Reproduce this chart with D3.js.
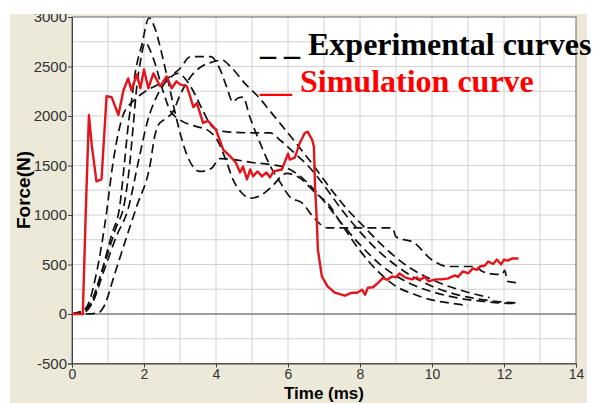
<!DOCTYPE html>
<html><head><meta charset="utf-8">
<script src="https://cdn.jsdelivr.net/npm/d3@7/dist/d3.min.js"></script>
<style>body{margin:0;background:#fff}svg{display:block}</style>
</head><body>
<script>
// ---- data (time in ms, force in N) ----
const xTicks = [0, 2, 4, 6, 8, 10, 12, 14];
const yTicks = [-500, 0, 500, 1000, 1500, 2000, 2500, 3000];
const legendLabels = ["_ _ Experimental curves", "__ Simulation curve"];

const exp1 = [[0,0],[0.2,20],[0.35,40],[0.5,100],[0.8,400],[1.1,800],[1.33,1100],[1.45,1500],[1.56,1900],[1.67,2200],[1.75,2420],[1.94,2720],[2.14,2990],[2.3,2890],[2.5,2620],[2.67,2350],[2.86,2040],[3.0,1830],[3.2,1600],[3.4,1470],[3.55,1440],[3.75,1450],[3.9,1480],[4.1,1570],[4.5,1560],[5.0,1530],[5.5,1510],[6.0,1470],[6.5,1340],[7.0,1140],[7.5,910],[8.0,700],[8.5,520],[9.0,385],[9.5,290],[10.0,225],[10.5,178],[11.0,145],[11.5,125],[12.0,110],[12.4,105]];
const exp2 = [[0,0],[0.3,30],[0.5,80],[0.85,450],[1.2,850],[1.47,1150],[1.6,1500],[1.7,1900],[1.8,2300],[1.9,2550],[2.03,2740],[2.25,2590],[2.53,2250],[2.72,2060],[3.0,1960],[3.4,1900],[3.8,1850],[4.03,1760],[4.3,1530],[4.47,1360],[4.7,1230],[4.94,1170],[5.2,1190],[5.5,1270],[5.97,1420],[6.3,1380],[6.8,1210],[7.1,1120],[7.5,900],[8.0,640],[8.5,430],[9.0,280],[9.5,200],[9.9,150],[10.5,110],[11.0,85]];
const exp3 = [[0,0],[0.25,20],[0.45,100],[0.7,450],[0.95,1000],[1.14,1530],[1.3,1850],[1.42,2010],[1.7,2150],[2.0,2240],[2.45,2330],[2.8,2420],[3.05,2500],[3.2,2580],[3.3,2600],[3.85,2600],[4.1,2480],[4.3,2290],[4.47,2140],[4.6,2180],[4.75,2190],[4.94,1990],[5.2,1750],[5.5,1500],[5.8,1320],[6.06,1180],[6.4,1120],[6.7,980],[7.1,870],[8.9,870],[9.0,780],[9.5,720],[10.0,545],[10.45,480],[11.2,480],[11.4,430],[11.8,400],[11.95,400],[12.02,440],[12.1,330],[12.4,315]];
const exp4 = [[0,0],[0.4,0],[0.75,15],[0.87,65],[1.2,420],[1.5,760],[1.8,1090],[2.17,1510],[2.3,1800],[2.4,1910],[2.63,1980],[2.8,2040],[3.0,2210],[3.28,2390],[3.6,2500],[3.9,2545],[4.17,2565],[4.4,2500],[4.8,2330],[5.2,2185],[5.5,2050],[5.86,1890],[6.28,1700],[6.75,1480],[7.03,1340],[7.58,1085],[8.14,870],[8.6,700],[9.25,500],[10.2,315],[10.8,240],[11.6,165]];
const exp5 = [[0,0],[0.3,10],[0.55,100],[0.9,450],[1.25,800],[1.55,1050],[1.85,1550],[2.1,1950],[2.4,2230],[2.7,2380],[2.95,2430],[3.2,2350],[3.37,2250],[3.6,2080],[3.9,1890],[4.2,1845],[5.0,1830],[5.5,1830],[5.8,1750],[6.2,1620],[6.6,1480],[7.0,1300],[7.5,1050],[8.0,830],[8.5,640],[9.0,490],[9.5,370],[10.0,280],[10.5,215],[11.0,170],[11.5,140],[12.0,120],[12.4,112]];
const experimental = [exp1, exp2, exp3, exp4, exp5];

const simulation = [[0,0],[0.3,0],[0.38,1000],[0.47,2010],[0.55,1700],[0.68,1340],[0.82,1360],[0.96,2200],[1.1,2190],[1.29,2010],[1.43,2260],[1.56,2380],[1.65,2260],[1.8,2420],[1.9,2280],[2.0,2470],[2.12,2280],[2.26,2430],[2.45,2300],[2.63,2400],[2.77,2280],[2.9,2350],[3.0,2320],[3.19,2300],[3.28,2200],[3.37,2090],[3.47,2130],[3.64,1930],[3.78,1950],[4.0,1860],[4.1,1760],[4.2,1660],[4.4,1590],[4.55,1530],[4.67,1430],[4.75,1490],[4.86,1360],[4.95,1460],[5.03,1390],[5.15,1440],[5.28,1390],[5.4,1430],[5.5,1380],[5.6,1440],[5.83,1460],[6.0,1620],[6.05,1560],[6.19,1580],[6.33,1730],[6.47,1830],[6.55,1840],[6.67,1760],[6.72,1690],[6.75,1290],[6.8,950],[6.83,650],[6.94,380],[7.1,280],[7.3,215],[7.58,185],[7.78,215],[7.92,215],[8.06,245],[8.14,195],[8.22,265],[8.36,270],[8.5,315],[8.64,365],[8.75,345],[8.9,380],[9.0,370],[9.1,410],[9.25,370],[9.44,350],[9.58,370],[9.67,345],[9.8,375],[9.9,330],[10.1,350],[10.28,350],[10.45,360],[10.64,390],[10.72,375],[10.86,430],[11.0,410],[11.14,460],[11.25,445],[11.33,480],[11.47,490],[11.56,530],[11.7,505],[11.8,550],[11.92,500],[12.0,550],[12.1,540],[12.22,560],[12.4,560]];

// ---- layout ----
const W = 595, H = 403;
const L = 72, R = 576, T = 17, B = 363.5;

const svg = d3.select("body").append("svg").attr("width", W).attr("height", H);
svg.append("rect").attr("width", W).attr("height", H).attr("fill", "#fff");
svg.append("rect").attr("x", 10).attr("y", 14).attr("width", 577).attr("height", H - 14).attr("fill", "#ECE9D8");
svg.append("rect").attr("x", L).attr("y", T).attr("width", R - L).attr("height", B - T).attr("fill", "#fff");

const x = d3.scaleLinear().domain([0, 14]).range([L, R]);
const y = d3.scaleLinear().domain([-500, 3000]).range([B, T]);

// grid
const grid = svg.append("g").attr("stroke", "#d2d2d2").attr("stroke-width", 1);
grid.selectAll(".gx").data(d3.range(1, 14)).join("line")
  .attr("x1", d => x(d)).attr("x2", d => x(d)).attr("y1", T).attr("y2", B);
grid.selectAll(".gy").data(d3.range(-250, 3000, 250)).join("line")
  .attr("y1", d => y(d)).attr("y2", d => y(d)).attr("x1", L).attr("x2", R);
svg.append("line").attr("x1", L).attr("x2", R).attr("y1", y(0)).attr("y2", y(0))
  .attr("stroke", "#555").attr("stroke-width", 1);

// frame
svg.append("rect").attr("x", L).attr("y", T).attr("width", R - L).attr("height", B - T)
  .attr("fill", "none").attr("stroke", "#666").attr("stroke-width", 1);

// axes
const fmt = d => String(d);
const xAxis = svg.append("g").attr("transform", `translate(0,${B})`)
  .call(d3.axisBottom(x).tickValues(xTicks).tickFormat(fmt).tickSize(4).tickPadding(2));
const yAxis = svg.append("g").attr("transform", `translate(${L},0)`)
  .call(d3.axisLeft(y).tickValues(yTicks).tickFormat(fmt).tickSize(4).tickPadding(1));
[xAxis, yAxis].forEach(a => {
  a.select(".domain").attr("stroke", "#444");
  a.selectAll(".tick line").attr("stroke", "#444");
  a.selectAll("text").attr("font-family", "'Liberation Sans', Arial, sans-serif")
    .attr("font-size", 15).attr("fill", "#333");
});
xAxis.selectAll("text").attr("font-size", 14);

// lines
svg.append("clipPath").attr("id", "clip").append("rect")
  .attr("x", L).attr("y", T).attr("width", R - L).attr("height", B - T);
const plot = svg.append("g").attr("clip-path", "url(#clip)");
const lineExp = d3.line().x(d => x(d[0])).y(d => y(d[1])).curve(d3.curveMonotoneX);
const lineSim = d3.line().x(d => x(d[0])).y(d => y(d[1]));
plot.selectAll(".exp").data(experimental).join("path")
  .attr("d", lineExp).attr("fill", "none").attr("stroke", "#111")
  .attr("stroke-width", 1.7).attr("stroke-dasharray", "9,5");
plot.append("path").datum(simulation).attr("d", lineSim)
  .attr("fill", "none").attr("stroke", "#e3141b").attr("stroke-width", 2.4)
  .attr("stroke-linejoin", "round");

// white strip at top (clips the 3000 label as in the reference)
svg.append("rect").attr("x", 0).attr("y", 0).attr("width", W).attr("height", 14).attr("fill", "#fff");

// axis titles
svg.append("text").attr("x", 324).attr("y", 399).attr("text-anchor", "middle")
  .attr("font-family", "'Liberation Sans', Arial, sans-serif").attr("font-weight", "bold")
  .attr("font-size", 17).attr("fill", "#000").text("Time (ms)");
svg.append("text").attr("transform", "translate(30,190) rotate(-90)").attr("text-anchor", "middle")
  .attr("font-family", "'Liberation Sans', Arial, sans-serif").attr("font-weight", "bold")
  .attr("font-size", 19).attr("fill", "#000").text("Force(N)");

// legend
const legColors = ["#000", "#ff0000"];
svg.selectAll(".leg").data(legendLabels).join("text")
  .attr("x", 260).attr("y", (d, i) => 55 + i * 37)
  .attr("font-family", "'Liberation Serif', 'Times New Roman', serif").attr("font-weight", "bold")
  .attr("font-size", 32).attr("fill", (d, i) => legColors[i]).attr("xml:space", "preserve")
  .style("white-space", "pre").text(d => d);
</script>
</body></html>
